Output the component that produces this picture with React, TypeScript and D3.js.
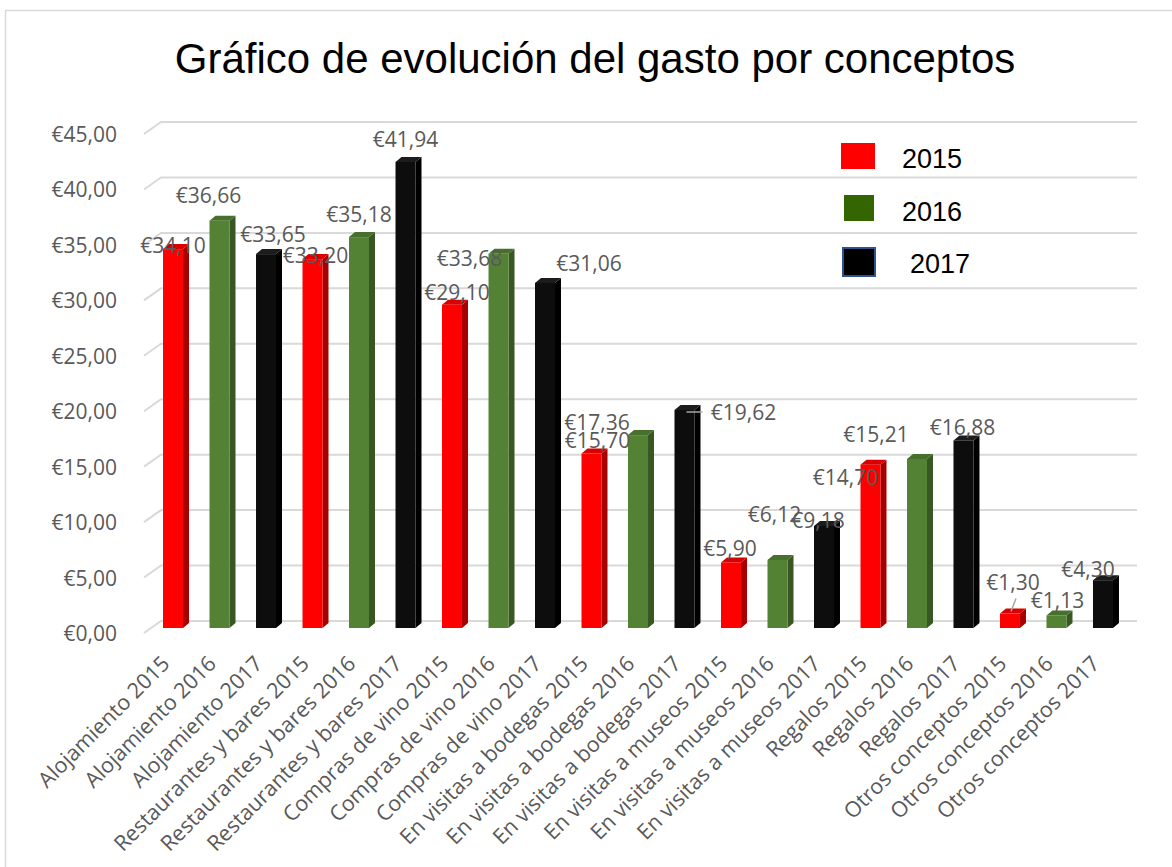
import React, { useRef, useEffect } from 'react';
import * as d3 from 'd3';

const categories = [
  'Alojamiento 2015', 'Alojamiento 2016', 'Alojamiento 2017',
  'Restaurantes y bares 2015', 'Restaurantes y bares 2016', 'Restaurantes y bares 2017',
  'Compras de vino 2015', 'Compras de vino 2016', 'Compras de vino 2017',
  'En visitas a bodegas 2015', 'En visitas a bodegas 2016', 'En visitas a bodegas 2017',
  'En visitas a museos 2015', 'En visitas a museos 2016', 'En visitas a museos 2017',
  'Regalos 2015', 'Regalos 2016', 'Regalos 2017',
  'Otros conceptos 2015', 'Otros conceptos 2016', 'Otros conceptos 2017',
];
const values = [
  34.10, 36.66, 33.65, 33.20, 35.18, 41.94, 29.10, 33.68, 31.06,
  15.70, 17.36, 19.62, 5.90, 6.12, 9.18, 14.70, 15.21, 16.88, 1.30, 1.13, 4.30,
];
const years = ['2015', '2016', '2017'];
const yTicks = [0, 5, 10, 15, 20, 25, 30, 35, 40, 45];

// where Excel pushed each data label, relative to the bar top
const labelShift: [number, number][] = [
  [0, 4], [-11, -18], [7, -12], [3, 4], [0, -15], [0, -15], [5, -5], [-29, 12], [44, -12],
  [6, -6], [-41, -5], [59, 10], [-1, -6], [-3, -38], [-6, 2], [-25, 20], [-41, -17], [-1, -5],
  [3, -24], [1, -7], [-15, -3],
];

const faces: Record<string, { front: string; side: string; top: string }> = {
  '2015': { front: '#FF0000', side: '#A80000', top: '#D80000' },
  '2016': { front: '#548235', side: '#385723', top: '#46702B' },
  '2017': { front: '#0D0D0D', side: '#000000', top: '#1C1C1C' },
};
const legendColors = ['#FF0000', '#336600', '#000000'];

const fmt = (v: number) => '€' + v.toFixed(2).replace('.', ',');

const App: React.FC = () => {
  const svgRef = useRef<SVGSVGElement>(null);
  const width = 1172;
  const height = 867;

  useEffect(() => {
    if (!svgRef.current) return;
    const svg = d3.select(svgRef.current);
    svg.selectAll('*').remove();

    const labelFont = '"Open Sans", sans-serif';
    const gray = '#595959';

    // outer frame
    svg.append('rect')
      .attr('x', 5.5).attr('y', 10.5)
      .attr('width', 1180).attr('height', 900)
      .attr('fill', '#fff').attr('stroke', '#D9D9D9').attr('stroke-width', 1.5);

    svg.append('text')
      .attr('x', 595).attr('y', 73)
      .attr('text-anchor', 'middle')
      .style('font-family', '"Liberation Sans", Arial, sans-serif')
      .style('font-size', '42px')
      .attr('fill', '#000')
      .text('Gráfico de evolución del gasto por conceptos');

    const yBack = d3.scaleLinear().domain([0, 45]).range([621, 122]);
    const yFront = d3.scaleLinear().domain([0, 45]).range([628, 128]);
    const x = d3.scaleBand<string>()
      .domain(categories)
      .range([150, 1126])
      .paddingInner(0.57)
      .paddingOuter(0.28);

    const wallLeft = 161;
    const wallRight = 1137;
    const depthX = 17;
    const depthY = 12;

    // gridlines with the 3D floor/wall corner
    const grid = svg.append('g');
    yTicks.forEach((t) => {
      const y = yBack(t);
      grid.append('path')
        .attr('d', `M${wallLeft - depthX},${y + depthY}L${wallLeft},${y}L${wallRight},${y}`)
        .attr('fill', 'none')
        .attr('stroke', '#D9D9D9')
        .attr('stroke-width', 2);
      svg.append('text')
        .attr('x', 117).attr('y', y + 20)
        .attr('text-anchor', 'end')
        .style('font-family', labelFont)
        .style('font-size', '21px')
        .attr('fill', gray)
        .text(fmt(t));
    });

    // bars
    const dx = 6;
    const dy = 5;
    const bw = x.bandwidth();
    const bars = svg.append('g');
    values.forEach((v, i) => {
      const c = faces[years[i % 3]];
      const x0 = x(categories[i]) as number;
      const y0 = yFront(0);
      const yt = yFront(v);
      bars.append('path')
        .attr('d', `M${x0 + bw},${y0}L${x0 + bw + dx},${y0 - dy}L${x0 + bw + dx},${yt - dy}L${x0 + bw},${yt}Z`)
        .attr('fill', c.side);
      bars.append('path')
        .attr('d', `M${x0},${yt}L${x0 + dx},${yt - dy}L${x0 + bw + dx},${yt - dy}L${x0 + bw},${yt}Z`)
        .attr('fill', c.top);
      bars.append('rect')
        .attr('x', x0).attr('y', yt)
        .attr('width', bw).attr('height', y0 - yt)
        .attr('fill', c.front);
    });

    // leader lines
    const lead = (i: number, pts: [number, number][]) => {
      const cx = (x(categories[i]) as number) + bw / 2;
      const yt = yFront(values[i]);
      svg.append('path')
        .attr('d', d3.line()(pts.map(([a, b]) => [cx + a, yt + b])))
        .attr('stroke', '#A6A6A6').attr('stroke-width', 1.5).attr('fill', 'none');
    };
    lead(11, [[2, 2], [18, 2]]);
    lead(18, [[1, -2], [6, -15]]);

    // data labels
    values.forEach((v, i) => {
      const cx = (x(categories[i]) as number) + bw / 2;
      const [sx, sy] = labelShift[i];
      svg.append('text')
        .attr('x', cx + sx).attr('y', yFront(v) + sy)
        .attr('text-anchor', 'middle')
        .style('font-family', labelFont)
        .style('font-size', '21px')
        .attr('fill', gray)
        .text(fmt(v));
    });

    // category labels
    categories.forEach((cat) => {
      const cx = (x(cat) as number) + bw / 2;
      svg.append('text')
        .attr('transform', `translate(${cx - 2},665) rotate(-45)`)
        .attr('text-anchor', 'end')
        .style('font-family', labelFont)
        .style('font-size', '21.5px')
        .attr('fill', gray)
        .text(cat);
    });

    // legend
    const legendBoxes = [
      { x: 841, y: 143, w: 34, h: 26, tx: 902, ty: 168 },
      { x: 844, y: 195, w: 30, h: 26, tx: 902, ty: 221 },
      { x: 843, y: 248, w: 32, h: 28, tx: 910, ty: 273 },
    ];
    years.forEach((yr, i) => {
      const b = legendBoxes[i];
      svg.append('rect')
        .attr('x', b.x).attr('y', b.y)
        .attr('width', b.w).attr('height', b.h)
        .attr('fill', legendColors[i])
        .attr('stroke', i === 2 ? '#2F528F' : 'none')
        .attr('stroke-width', 2);
      svg.append('text')
        .attr('x', b.tx).attr('y', b.ty)
        .style('font-family', '"Liberation Sans", Arial, sans-serif')
        .style('font-size', '27px')
        .attr('fill', '#000')
        .text(yr);
    });
  }, []);

  return (
    <svg
      ref={svgRef}
      width={width}
      height={height}
      style={{ position: 'absolute', left: 0, top: 0, background: '#fff' }}
    />
  );
};

export default App;
